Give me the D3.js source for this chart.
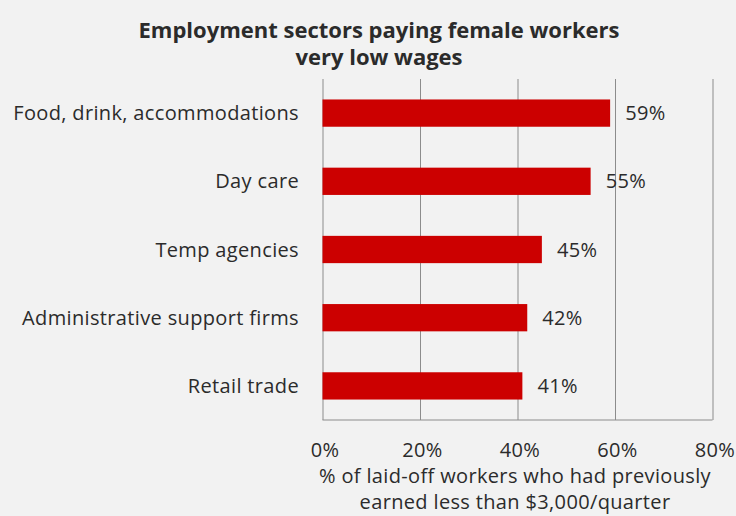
<!DOCTYPE html>
<html>
<head>
<meta charset="utf-8">
<script src="https://cdn.jsdelivr.net/npm/d3@7"></script>
<style>
  html, body { margin: 0; padding: 0; background: #f2f2f2; }
  svg { display: block; }
  text { font-family: "Open Sans", "Noto Sans", sans-serif; fill: #2b2b2b; }
  .lbl { font-size: 20px; letter-spacing: 0.35px; }
</style>
</head>
<body>
<svg id="chart" width="736" height="516"></svg>
<script>
// Sectors and the share of laid-off women who earned under $3,000 per quarter
const sectors = [
  "Food, drink, accommodations",
  "Day care",
  "Temp agencies",
  "Administrative support firms",
  "Retail trade"
];
const shares = [0.59, 0.55, 0.45, 0.42, 0.41];
const xTicks = [0, 0.2, 0.4, 0.6, 0.8];
const titleLines = ["Employment sectors paying female workers", "very low wages"];
const axisTitleLines = ["% of laid-off workers who had previously", "earned less than $3,000/quarter"];

const rows = sectors.map((s, i) => ({ sector: s, value: shares[i] }));

const svg = d3.select("#chart");
const plot = { left: 322.5, right: 712.5, top: 79, bottom: 420 };

const x = d3.scaleLinear().domain([0, 0.8]).range([plot.left, plot.right]);
const y = d3.scaleBand()
  .domain(sectors)
  .range([plot.top, plot.bottom])
  .paddingInner(0.6)
  .paddingOuter(0.3);

const pct = d3.format(".0%");

// Vertical gridlines
svg.append("g")
  .attr("transform", `translate(0,${plot.bottom})`)
  .call(d3.axisBottom(x).tickValues(xTicks).tickSize(-(plot.bottom - plot.top)).tickFormat(""))
  .call(g => g.select(".domain").remove())
  .call(g => g.selectAll(".tick line").attr("stroke", "#8c8c8c").attr("stroke-width", 1));

// Base line along the bottom of the plot
svg.append("line")
  .attr("x1", plot.left).attr("x2", plot.right)
  .attr("y1", plot.bottom).attr("y2", plot.bottom)
  .attr("stroke", "#8c8c8c");

// Tick labels
svg.append("g")
  .attr("transform", `translate(0,${plot.bottom})`)
  .call(d3.axisBottom(x).tickValues(xTicks).tickSize(0).tickPadding(0).tickFormat(pct))
  .call(g => g.select(".domain").remove())
  .call(g => g.selectAll(".tick text")
    .attr("class", "lbl")
    .attr("x", 2)
    .attr("y", 37)
    .attr("dy", null)
    .style("font-family", null)
    .attr("fill", "#2b2b2b"));

// Bars
svg.append("g").selectAll("rect")
  .data(rows)
  .join("rect")
  .attr("x", x(0))
  .attr("y", d => y(d.sector))
  .attr("width", d => x(d.value) - x(0))
  .attr("height", y.bandwidth())
  .attr("fill", "#cc0000");

// Value labels
svg.append("g").selectAll("text")
  .data(rows)
  .join("text")
  .attr("class", "lbl")
  .attr("x", d => x(d.value) + 15)
  .attr("y", d => y(d.sector) + y.bandwidth() / 2)
  .attr("dy", "0.35em")
  .text(d => pct(d.value));

// Category labels
svg.append("g").selectAll("text")
  .data(rows)
  .join("text")
  .attr("class", "lbl")
  .attr("x", 299)
  .attr("y", d => y(d.sector) + y.bandwidth() / 2)
  .attr("dy", "0.35em")
  .attr("text-anchor", "end")
  .text(d => d.sector);

// Chart title
svg.append("g").selectAll("text")
  .data(titleLines)
  .join("text")
  .attr("x", 379)
  .attr("y", (d, i) => 38 + i * 27)
  .attr("text-anchor", "middle")
  .style("font-size", "22px")
  .style("font-weight", "bold")
  .attr("fill", "#111")
  .text(d => d);

// Axis title
svg.append("g").selectAll("text")
  .data(axisTitleLines)
  .join("text")
  .attr("class", "lbl")
  .attr("x", 515)
  .attr("y", (d, i) => 483 + i * 26)
  .attr("text-anchor", "middle")
  .text(d => d);
</script>
</body>
</html>
